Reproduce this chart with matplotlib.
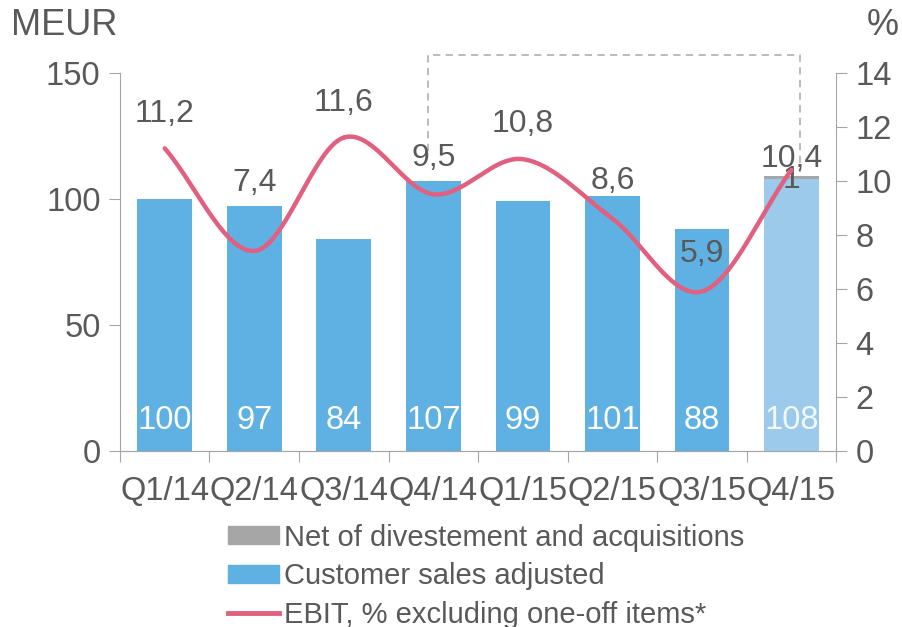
import numpy as np
import matplotlib
matplotlib.use("Agg")
import matplotlib.pyplot as plt
from matplotlib.lines import Line2D
from matplotlib.patches import Patch

plt.rcParams['font.family'] = ['Liberation Sans', 'DejaVu Sans']

categories = ["Q1/14", "Q2/14", "Q3/14", "Q4/14", "Q1/15", "Q2/15", "Q3/15", "Q4/15"]
sales = [100, 97, 84, 107, 99, 101, 88, 108]
net_div = [0, 0, 0, 0, 0, 0, 0, 1]
ebit = [11.2, 7.4, 11.6, 9.5, 10.8, 8.6, 5.9, 10.4]
ebit_labels = ["11,2", "7,4", "11,6", "9,5", "10,8", "8,6", "5,9", "10,4"]
# label offsets in points (style)
label_dy = [25, 49, 25, 26, 25, 27, 27, 8]

TXT = '#595959'
AX = '#A6A6A6'
BLUE = '#5FB1E3'
LBLUE = '#9BCAEA'
GREY = '#A6A6A6'
PINK = '#E2607F'

FS = 23.5

fig = plt.figure(figsize=(9.02, 6.27), dpi=100)
ax = fig.add_axes([0.133, 0.281, 0.794, 0.603])
ax2 = ax.twinx()

x = np.arange(len(categories))
colors = [BLUE] * 7 + [LBLUE]
ax.bar(x, sales, width=0.61, color=colors, zorder=2)
ax.bar(x, net_div, width=0.61, bottom=sales, color=GREY, zorder=2)

for i, v in enumerate(sales):
    ax.text(i, 12, str(v), ha='center', va='center', fontsize=23.5,
            color='white' if i < 7 else '#F2F8FC', zorder=5)
for i, v in enumerate(net_div):
    if v:
        ax.text(i, sales[i] + v - 1.5, str(v), ha='center', va='center', fontsize=23, color=TXT, zorder=6)

ax.set_xlim(-0.5, 7.5)
ax.set_ylim(0, 150)
ax.set_yticks([0, 50, 100, 150])
ax.set_xticks(np.arange(-0.5, 8, 1))
ax.set_xticklabels([])
ax.set_xticks(x, minor=True)
ax.set_xticklabels(categories, minor=True)
ax.tick_params(axis='x', which='major', length=8, color=AX, direction='out')
ax.tick_params(axis='x', which='minor', length=0, labelsize=FS, labelcolor=TXT, pad=18)
ax.tick_params(axis='y', length=8, color=AX, labelsize=FS, labelcolor=TXT, pad=6)

ax2.set_ylim(0, 14)
ax2.set_yticks(range(0, 15, 2))
ax2.tick_params(axis='y', length=8, color=AX, labelsize=FS, labelcolor=TXT, pad=6)

for a in (ax, ax2):
    a.spines['top'].set_visible(False)
    a.spines['left'].set_color(AX)
    a.spines['right'].set_color(AX)
    a.spines['bottom'].set_color(AX)
ax.spines['right'].set_visible(False)
ax2.spines['left'].set_visible(False)

# smooth line (Catmull-Rom through the data points)
def catmull(xs, ys, n=30):
    xs = np.asarray(xs, float); ys = np.asarray(ys, float)
    P = np.column_stack([xs, ys])
    P = np.vstack([P[0] - (P[1] - P[0]), P, P[-1] + (P[-1] - P[-2])])
    out = []
    for i in range(1, len(P) - 2):
        p0, p1, p2, p3 = P[i - 1], P[i], P[i + 1], P[i + 2]
        t = np.linspace(0, 1, n)[:, None]
        pts = 0.5 * ((2 * p1) + (-p0 + p2) * t + (2 * p0 - 5 * p1 + 4 * p2 - p3) * t ** 2
                     + (-p0 + 3 * p1 - 3 * p2 + p3) * t ** 3)
        out.append(pts)
    return np.vstack(out)

curve = catmull(x, ebit)
ax2.plot(curve[:, 0], curve[:, 1], color=PINK, lw=3.2, solid_capstyle='round', zorder=3)

ax.set_zorder(1); ax2.set_zorder(2); ax2.patch.set_visible(False)

for i, (v, lab) in enumerate(zip(ebit, ebit_labels)):
    ax2.annotate(lab, (i, v), xytext=(0, label_dy[i]), textcoords='offset points',
                 ha='center', va='center', fontsize=23, color=TXT, zorder=6)

# dashed bracket
ax.plot([2.94, 2.94, 7.1, 7.1], [119, 157, 157, 110.5], ls=(0, (4, 3)), color='#B5B5B5',
        lw=1.3, clip_on=False, zorder=1)

fig.text(0.012, 0.96, "MEUR", fontsize=26, color=TXT, va='center', ha='left')
fig.text(0.996, 0.96, "%", fontsize=26, color=TXT, va='center', ha='right')

handles = [Patch(color=GREY, label="Net of divestement and acquisitions"),
           Patch(color=BLUE, label="Customer sales adjusted"),
           Line2D([0], [0], color=PINK, lw=3.5, label="EBIT, % excluding one-off items*")]
fig.legend(handles=handles, loc='upper left', bbox_to_anchor=(0.253, 0.165), frameon=False,
           fontsize=21, labelcolor=TXT, handlelength=1.75, handleheight=0.55, handletextpad=0.15,
           labelspacing=0.36, borderpad=0, borderaxespad=0)

fig.savefig("out.png", dpi=100)
